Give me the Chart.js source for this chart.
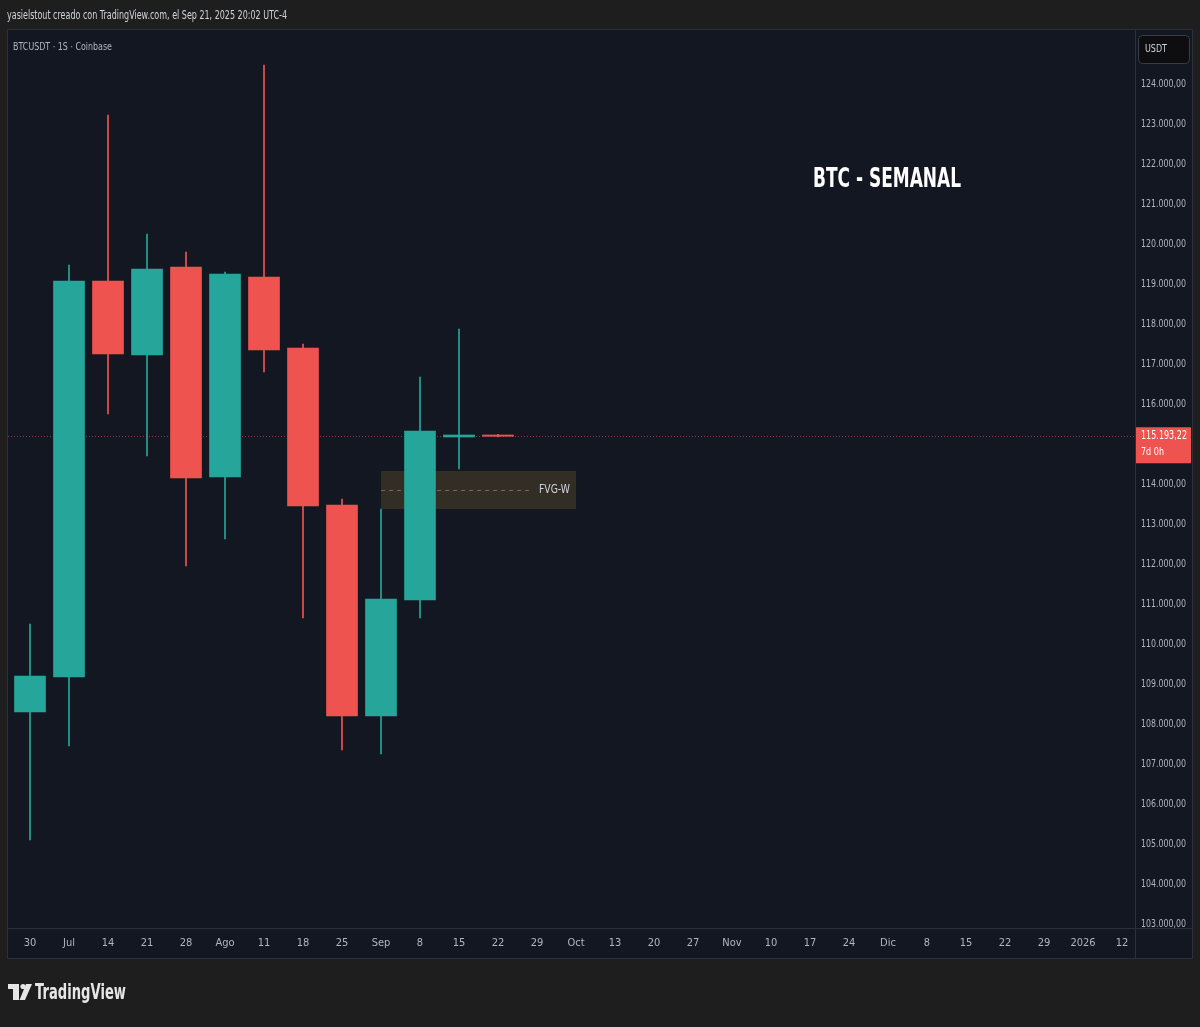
<!DOCTYPE html>
<html>
<head>
<meta charset="utf-8">
<script src="https://cdn.jsdelivr.net/npm/chart.js@4.4.1/dist/chart.umd.min.js"></script>
<style>
  html, body { margin: 0; padding: 0; background: #1e1e1e; }
  #wrap { width: 1200px; height: 1027px; }
</style>
</head>
<body>
<div id="wrap"><canvas id="chart"></canvas></div>
<script>
// weekly axis labels (one per week, starting Jun 30 2025)
const weekLabels = ["30", "Jul", "14", "21", "28", "Ago", "11", "18", "25", "Sep", "8", "15", "22", "29", "Oct",
  "13", "20", "27", "Nov", "10", "17", "24", "Dic", "8", "15", "22", "29", "2026", "12"];

// price axis ticks
const priceTicks = [103000, 104000, 105000, 106000, 107000, 108000, 109000, 110000, 111000, 112000, 113000,
  114000, 115000, 116000, 117000, 118000, 119000, 120000, 121000, 122000, 123000, 124000];

// BTCUSDT weekly candles
const opens  = [108300, 109175, 119075, 117225, 119425, 114175, 119175, 117400, 113475, 108200, 111100, 115175, 115225];
const highs  = [110500, 119475, 123225, 120250, 119800, 119300, 124475, 117500, 113625, 113375, 116675, 117875, 115240];
const lows   = [105100, 107450, 115750, 114700, 111950, 112625, 116800, 110650, 107350, 107250, 110650, 114375, 115180];
const closes = [109200, 119075, 117250, 119375, 114150, 119250, 117350, 113450, 108200, 111125, 115325, 115225, 115193.22];

const lastPrice = 115193.22;
const lastPriceText = "115.193,22";
const countdownText = "7d 0h";

// fair value gap zone
const fvgWeeks = [9, 14];
const fvgPrices = [113375, 114325];
const fvgLabel = "FVG-W";

const headerText = "yasielstout creado con TradingView.com, el Sep 21, 2025 20:02 UTC-4";
const symbolText = "BTCUSDT · 1S · Coinbase";
const titleText = "BTC - SEMANAL";

const UP = "#26a69a";
const DOWN = "#ef5350";
const FONT = "'DejaVu Sans', sans-serif";

// use a condensed face if the system has one
const probe = document.createElement("canvas").getContext("2d");
probe.font = "11px 'DejaVu Sans'";
const wNormal = probe.measureText("124.000,00").width;
probe.font = "condensed 11px 'DejaVu Sans'";
const hasCondensed = probe.measureText("124.000,00").width < wNormal - 1;
const tickFont = hasCondensed
  ? {family: "'DejaVu Sans'", size: 11, weight: "condensed"}
  : {family: "'Liberation Sans', sans-serif", size: 10};

function fmtPrice(v) {
  const n = Math.round(v).toString().replace(/\B(?=(\d{3})+(?!\d))/g, ".");
  return n + ",00";
}

// draw text squeezed to a given width (the screenshot font is a narrow one)
function fitText(ctx, text, x, y, width, align) {
  const w = ctx.measureText(text).width;
  ctx.save();
  ctx.translate(x, y);
  ctx.scale(width / w, 1);
  ctx.textAlign = align;
  ctx.fillText(text, 0, 0);
  ctx.restore();
}

const colors = opens.map((o, i) => (closes[i] >= o ? UP : DOWN));
const bodies = opens.map((o, i) => ({x: i, y: [o, closes[i]]}));
const wicks = lows.map((l, i) => ({x: i, y: [l, highs[i]]}));

const tvPlugin = {
  id: "tvFrame",
  beforeDraw(chart) {
    const ctx = chart.ctx;
    ctx.save();
    ctx.fillStyle = "#1e1e1e";
    ctx.fillRect(0, 0, chart.width, chart.height);
    ctx.fillStyle = "#131722";
    ctx.fillRect(8, 30, 1184, 928);
    ctx.restore();
  },
  beforeDatasetsDraw(chart) {
    const ctx = chart.ctx;
    const xs = chart.scales.x, ys = chart.scales.y;
    const area = chart.chartArea;
    ctx.save();
    // FVG box
    const x0 = xs.getPixelForValue(fvgWeeks[0]);
    const x1 = xs.getPixelForValue(fvgWeeks[1]);
    const yTop = ys.getPixelForValue(fvgPrices[1]);
    const yBot = ys.getPixelForValue(fvgPrices[0]);
    ctx.fillStyle = "#322d25";
    ctx.fillRect(x0, yTop, x1 - x0, yBot - yTop);
    const yMid = ys.getPixelForValue((fvgPrices[0] + fvgPrices[1]) / 2);
    ctx.strokeStyle = "#806438";
    ctx.lineWidth = 1;
    ctx.setLineDash([4, 4]);
    ctx.beginPath();
    ctx.moveTo(x0, Math.round(yMid) + 0.5);
    ctx.lineTo(x1 - 45, Math.round(yMid) + 0.5);
    ctx.stroke();
    ctx.setLineDash([]);
    ctx.fillStyle = "#d1d4dc";
    ctx.font = "12px " + FONT;
    ctx.textBaseline = "middle";
    fitText(ctx, fvgLabel, x1 - 6, yMid, 31, "right");
    // last price dotted line
    const yp = Math.round(ys.getPixelForValue(lastPrice)) + 0.5;
    ctx.strokeStyle = "rgba(239,83,80,0.55)";
    ctx.setLineDash([1, 2]);
    ctx.beginPath();
    ctx.moveTo(area.left, yp);
    ctx.lineTo(area.right, yp);
    ctx.stroke();
    ctx.restore();
  },
  afterDraw(chart) {
    const ctx = chart.ctx;
    const ys = chart.scales.y;
    const area = chart.chartArea;
    ctx.save();

    // price axis labels, taken from the y scale's ticks (clipped by the time axis)
    ctx.save();
    ctx.beginPath();
    ctx.rect(area.right + 1, 30, 57, area.bottom - 30);
    ctx.clip();
    ctx.fillStyle = "#b2b5be";
    ctx.font = "11px " + FONT;
    ctx.textBaseline = "middle";
    ys.ticks.forEach((t) => {
      fitText(ctx, fmtPrice(t.value), area.right + 6, ys.getPixelForValue(t.value), 45, "left");
    });
    ctx.restore();

    // frame and separators
    ctx.strokeStyle = "#2e3038";
    ctx.lineWidth = 1;
    ctx.strokeRect(7.5, 29.5, 1185, 929);
    ctx.beginPath();
    ctx.moveTo(area.right + 0.5, 30);
    ctx.lineTo(area.right + 0.5, 958);
    ctx.moveTo(8, area.bottom + 0.5);
    ctx.lineTo(1192, area.bottom + 0.5);
    ctx.stroke();

    // header texts
    ctx.textBaseline = "middle";
    ctx.fillStyle = "#d1d4dc";
    ctx.font = "12px " + FONT;
    fitText(ctx, headerText, 7, 16, 280, "left");
    ctx.fillStyle = "#b2b5be";
    ctx.font = "11px " + FONT;
    fitText(ctx, symbolText, 13, 47, 99, "left");

    // title
    ctx.fillStyle = "#ffffff";
    ctx.font = "bold 26px " + FONT;
    fitText(ctx, titleText, 887, 180, 148, "center");

    // USDT button
    ctx.fillStyle = "#0e0e10";
    ctx.strokeStyle = "#3a3d45";
    ctx.beginPath();
    ctx.roundRect(1138.5, 35.5, 51, 28, 4);
    ctx.fill();
    ctx.stroke();
    ctx.fillStyle = "#d1d4dc";
    ctx.font = "11px " + FONT;
    fitText(ctx, "USDT", 1145, 49, 22, "left");

    // last price label
    const yp = ys.getPixelForValue(lastPrice);
    ctx.fillStyle = DOWN;
    ctx.fillRect(area.right + 1, yp - 9, 55, 36);
    ctx.fillStyle = "#ffffff";
    ctx.font = "12px " + FONT;
    fitText(ctx, lastPriceText, area.right + 6, yp, 46, "left");
    ctx.font = "11px " + FONT;
    fitText(ctx, countdownText, area.right + 6, yp + 16, 23, "left");

    // TradingView logo
    ctx.fillStyle = "#e6e6e6";
    ctx.fillRect(8, 984, 11, 5);
    ctx.fillRect(13, 984, 6, 16);
    ctx.beginPath();
    ctx.arc(23, 986.5, 2.6, 0, Math.PI * 2);
    ctx.fill();
    ctx.beginPath();
    ctx.moveTo(26, 984);
    ctx.lineTo(32, 984);
    ctx.lineTo(25, 1000);
    ctx.lineTo(19.5, 1000);
    ctx.closePath();
    ctx.fill();
    ctx.font = "bold 22px " + FONT;
    fitText(ctx, "TradingView", 35, 993, 91, "left");
    ctx.restore();
  }
};

new Chart(document.getElementById("chart"), {
  type: "bar",
  data: {
    datasets: [
      {
        label: "wicks",
        data: wicks,
        backgroundColor: colors,
        borderWidth: 0,
        barThickness: 1,
        grouped: false,
        order: 2
      },
      {
        label: "bodies",
        data: bodies,
        backgroundColor: colors,
        borderWidth: 0,
        barThickness: 31,
        minBarLength: 1,
        grouped: false,
        order: 1
      }
    ]
  },
  options: {
    responsive: true,
    maintainAspectRatio: false,
    animation: false,
    layout: {padding: {left: 8, top: 30, right: 8, bottom: 69}},
    plugins: {legend: {display: false}, tooltip: {enabled: false}},
    scales: {
      x: {
        type: "linear",
        offset: false,
        min: -22 / 39,
        max: 1105 / 39,
        grid: {display: false, drawTicks: false, offset: false},
        border: {display: false},
        afterBuildTicks: (scale) => {
          scale.ticks = weekLabels.map((_, i) => ({value: i}));
        },
        afterFit: (scale) => { scale.height = 30; },
        ticks: {
          autoSkip: false,
          maxRotation: 0,
          padding: 9,
          color: "#b2b5be",
          font: tickFont,
          callback: (v) => weekLabels[v]
        }
      },
      y: {
        position: "right",
        min: 102900,
        max: 125350,
        grid: {display: false, drawTicks: false},
        border: {display: false},
        afterBuildTicks: (scale) => {
          scale.ticks = priceTicks.map((v) => ({value: v}));
        },
        afterFit: (scale) => { scale.width = 57; },
        ticks: {display: false}
      }
    }
  },
  plugins: [tvPlugin]
});
</script>
</body>
</html>
